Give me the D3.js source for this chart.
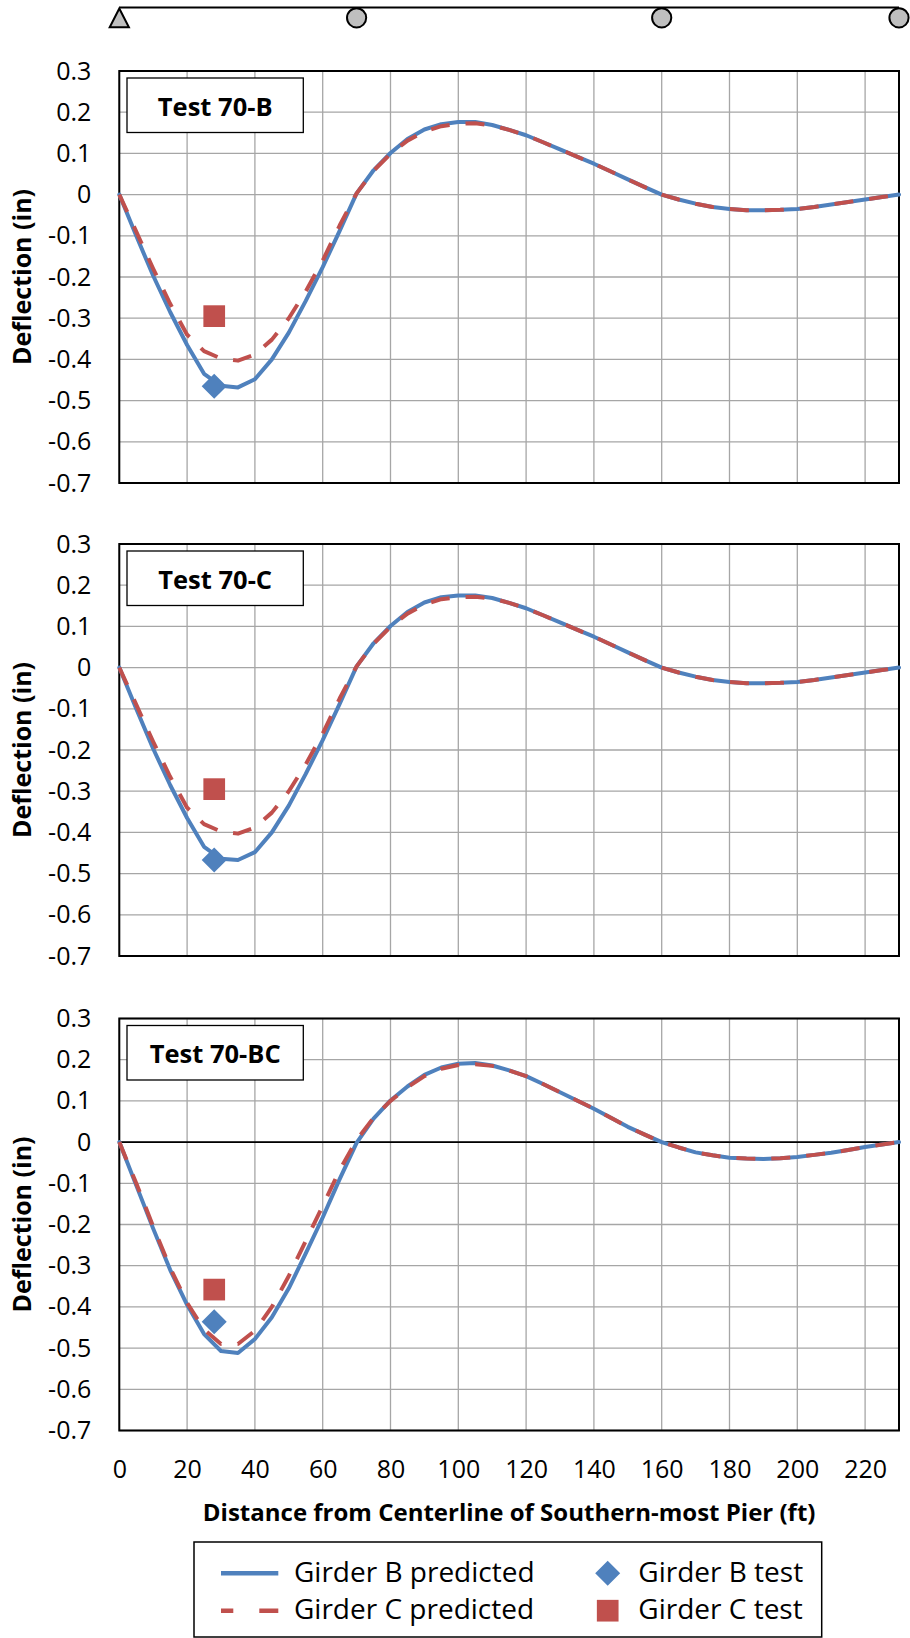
<!DOCTYPE html>
<html>
<head>
<meta charset="utf-8">
<script src="https://cdn.jsdelivr.net/npm/d3@7"></script>
<style>
  body { margin: 0; background: #fff; }
  svg { display: block; font-family: "Open Sans", sans-serif; }
</style>
</head>
<body>
<svg id="chart" width="910" height="1638"></svg>
<script>
// distance along the bridge (ft)
var distFt = [0, 5, 10, 15, 20, 25, 30, 35, 40, 45, 50, 55, 60, 65, 70, 75, 80, 85, 90, 95,
  100, 105, 110, 115, 120, 125, 130, 135, 140, 145, 150, 155, 160, 165, 170, 175, 180, 185, 190, 195,
  200, 205, 210, 215, 220, 225, 230];

// predicted deflections (in), one array per girder per test
var girderB_70B = [0, -0.10, -0.197, -0.285, -0.365, -0.435, -0.464, -0.468, -0.448, -0.40,
  -0.335, -0.258, -0.176, -0.088, 0.003, 0.059, 0.101, 0.135, 0.158, 0.171,
  0.176, 0.176, 0.169, 0.157, 0.144, 0.127, 0.110, 0.092, 0.075, 0.056,
  0.037, 0.018, 0.0, -0.012, -0.022, -0.030, -0.035, -0.038, -0.038, -0.037,
  -0.035, -0.030, -0.024, -0.018, -0.012, -0.006, 0];
var girderC_70B = [0, -0.09, -0.18, -0.265, -0.34, -0.38, -0.398, -0.403, -0.388, -0.352,
  -0.30, -0.235, -0.16, -0.075, 0.003, 0.058, 0.099, 0.131, 0.153, 0.166,
  0.172, 0.173, 0.168, 0.157, 0.144, 0.127, 0.110, 0.092, 0.075, 0.056,
  0.037, 0.018, 0.0, -0.012, -0.022, -0.030, -0.035, -0.038, -0.038, -0.037,
  -0.035, -0.030, -0.024, -0.018, -0.012, -0.006, 0];
var girderB_70C = [0, -0.10, -0.197, -0.285, -0.365, -0.435, -0.464, -0.467, -0.448, -0.40,
  -0.335, -0.258, -0.176, -0.088, 0.003, 0.059, 0.101, 0.135, 0.158, 0.171,
  0.175, 0.175, 0.169, 0.157, 0.144, 0.127, 0.110, 0.092, 0.075, 0.056,
  0.037, 0.018, 0.0, -0.012, -0.022, -0.030, -0.035, -0.038, -0.038, -0.037,
  -0.035, -0.030, -0.024, -0.018, -0.012, -0.006, 0];
var girderC_70C = [0, -0.09, -0.18, -0.265, -0.34, -0.38, -0.398, -0.403, -0.388, -0.352,
  -0.30, -0.235, -0.16, -0.075, 0.003, 0.058, 0.099, 0.131, 0.153, 0.166,
  0.171, 0.172, 0.168, 0.157, 0.144, 0.127, 0.110, 0.092, 0.075, 0.056,
  0.037, 0.018, 0.0, -0.012, -0.022, -0.030, -0.035, -0.038, -0.038, -0.037,
  -0.035, -0.030, -0.024, -0.018, -0.012, -0.006, 0];
var girderB_70BC = [0, -0.105, -0.21, -0.31, -0.395, -0.466, -0.507, -0.512, -0.478, -0.425,
  -0.355, -0.27, -0.183, -0.09, -0.002, 0.057, 0.101, 0.135, 0.163, 0.181,
  0.19, 0.192, 0.186, 0.174, 0.16, 0.141, 0.121, 0.101, 0.081, 0.059,
  0.037, 0.018, 0.0, -0.013, -0.025, -0.032, -0.038, -0.040, -0.041, -0.039,
  -0.036, -0.031, -0.026, -0.019, -0.012, -0.006, 0];
var girderC_70BC = [0, -0.10, -0.205, -0.305, -0.39, -0.455, -0.49, -0.49, -0.458, -0.40,
  -0.325, -0.24, -0.155, -0.068, 0.005, 0.059, 0.10, 0.133, 0.16, 0.178,
  0.187, 0.189, 0.185, 0.174, 0.16, 0.141, 0.121, 0.101, 0.081, 0.059,
  0.037, 0.018, 0.0, -0.013, -0.025, -0.032, -0.038, -0.040, -0.041, -0.039,
  -0.036, -0.031, -0.026, -0.019, -0.012, -0.006, 0];

// measured values (one per test)
var testNames = ["Test 70-B", "Test 70-C", "Test 70-BC"];
var testFt = [28, 28, 28];
var girderBTest = [-0.465, -0.467, -0.436];
var girderCTest = [-0.295, -0.295, -0.358];

var xTicks = [0, 20, 40, 60, 80, 100, 120, 140, 160, 180, 200, 220];
var yTicks = [0.3, 0.2, 0.1, 0, -0.1, -0.2, -0.3, -0.4, -0.5, -0.6, -0.7];

// supports drawn above the plots
var supportFt = [0, 70, 160, 230];
var supportType = ["pin", "roller", "roller", "roller"];

var blue = "#4f81bd", red = "#c0504d", gridColor = "#a6a6a6";

var svg = d3.select("#chart");
var left = 119.3, right = 899, plotH = 412;
var panelTops = [71, 544, 1018.5];

var x = d3.scaleLinear().domain([0, 230]).range([left, right]);

var panels = [
  { b: girderB_70B, c: girderC_70B },
  { b: girderB_70C, c: girderC_70C },
  { b: girderB_70BC, c: girderC_70BC }
];

var squareSym = d3.symbol().type(d3.symbolSquare).size(471);
var diamondSym = d3.symbol().type(d3.symbolSquare).size(313);

// beam + supports
var beamY = 7.5;
svg.append("line")
  .attr("x1", x(0)).attr("x2", x(230))
  .attr("y1", beamY).attr("y2", beamY)
  .attr("stroke", "#000").attr("stroke-width", 2);

supportFt.forEach(function(ft, i) {
  var cx = x(ft);
  if (supportType[i] == "pin") {
    svg.append("path")
      .attr("d", "M" + cx + "," + (beamY + 1) + "L" + (cx - 9.6) + "," + (beamY + 19.8) +
        "L" + (cx + 9.6) + "," + (beamY + 19.8) + "Z")
      .attr("fill", "#bfbfbf").attr("stroke", "#000").attr("stroke-width", 2)
      .attr("stroke-linejoin", "miter");
  } else {
    svg.append("circle")
      .attr("cx", cx).attr("cy", beamY + 10.3).attr("r", 9.6)
      .attr("fill", "#bfbfbf").attr("stroke", "#000").attr("stroke-width", 2);
  }
});

panels.forEach(function(p, i) {
  var top = panelTops[i];
  var y = d3.scaleLinear().domain([-0.7, 0.3]).range([top + plotH, top]);
  var g = svg.append("g");

  // gridlines
  g.append("g").selectAll("line").data(yTicks).enter().append("line")
    .attr("x1", left).attr("x2", right)
    .attr("y1", function(d) { return y(d); }).attr("y2", function(d) { return y(d); })
    .attr("stroke", gridColor).attr("stroke-width", 1.3);
  g.append("g").selectAll("line").data(xTicks).enter().append("line")
    .attr("x1", function(d) { return x(d); }).attr("x2", function(d) { return x(d); })
    .attr("y1", top).attr("y2", top + plotH)
    .attr("stroke", gridColor).attr("stroke-width", 1.3);

  // last panel has the horizontal axis through zero
  if (i == 2) {
    g.append("line")
      .attr("x1", left).attr("x2", right)
      .attr("y1", y(0)).attr("y2", y(0))
      .attr("stroke", "#000").attr("stroke-width", 1.6);
  }

  // frame
  g.append("rect")
    .attr("x", left).attr("y", top)
    .attr("width", right - left).attr("height", plotH)
    .attr("fill", "none").attr("stroke", "#000").attr("stroke-width", 2);

  // y tick labels
  var yAxis = d3.axisLeft(y).tickValues(yTicks).tickSize(0).tickPadding(28)
    .tickFormat(function(d) { return d === 0 ? "0" : d.toFixed(1); });
  var ya = g.append("g").attr("transform", "translate(" + left + ",0)").call(yAxis);
  ya.select(".domain").remove();
  ya.selectAll("text").attr("font-size", 25).attr("font-family", "Open Sans").attr("fill", "#000");

  g.append("text")
    .attr("transform", "translate(30.5," + (top + plotH / 2) + ") rotate(-90)")
    .attr("text-anchor", "middle")
    .attr("font-size", 25).attr("font-weight", "bold")
    .text("Deflection (in)");

  var line = d3.line()
    .x(function(d, k) { return x(distFt[k]); })
    .y(function(d) { return y(d); });

  g.append("path").datum(p.b)
    .attr("d", line).attr("fill", "none")
    .attr("stroke", blue).attr("stroke-width", 4)
    .attr("stroke-linejoin", "round").attr("stroke-linecap", "round");
  g.append("path").datum(p.c)
    .attr("d", line).attr("fill", "none")
    .attr("stroke", red).attr("stroke-width", 4)
    .attr("stroke-dasharray", "19,16")
    .attr("stroke-linejoin", "round");

  // test markers
  g.append("path").attr("d", diamondSym)
    .attr("transform", "translate(" + x(testFt[i]) + "," + y(girderBTest[i]) + ") rotate(45)")
    .attr("fill", blue);
  g.append("path").attr("d", squareSym)
    .attr("transform", "translate(" + x(testFt[i]) + "," + y(girderCTest[i]) + ")")
    .attr("fill", red);

  // test label box
  g.append("rect")
    .attr("x", 127).attr("y", top + 7)
    .attr("width", 176.3).attr("height", 54.5)
    .attr("fill", "#fff").attr("stroke", "#000").attr("stroke-width", 1.3);
  g.append("text")
    .attr("x", 215.2).attr("y", top + 44.5)
    .attr("text-anchor", "middle")
    .attr("font-size", 25.5).attr("font-weight", "bold")
    .text(testNames[i]);

  // x tick labels only on bottom panel
  if (i == 2) {
    var xAxis = d3.axisBottom(x).tickValues(xTicks).tickSize(0).tickPadding(29.8);
    var xa = g.append("g").attr("transform", "translate(0," + (top + plotH) + ")").call(xAxis);
    xa.select(".domain").remove();
    xa.selectAll("text").attr("font-size", 25).attr("font-family", "Open Sans").attr("fill", "#000");
  }
});

svg.append("text")
  .attr("x", (left + right) / 2).attr("y", 1521)
  .attr("text-anchor", "middle")
  .attr("font-size", 24).attr("font-weight", "bold")
  .text("Distance from Centerline of Southern-most Pier (ft)");

// legend
var lg = svg.append("g");
lg.append("rect")
  .attr("x", 194).attr("y", 1542)
  .attr("width", 627.7).attr("height", 95)
  .attr("fill", "#fff").attr("stroke", "#000").attr("stroke-width", 1.5);

var row1 = 1573.3, row2 = 1610.7;
lg.append("line").attr("x1", 221).attr("x2", 278.3).attr("y1", row1).attr("y2", row1)
  .attr("stroke", blue).attr("stroke-width", 4.5);
lg.append("line").attr("x1", 221).attr("x2", 278.3).attr("y1", row2).attr("y2", row2)
  .attr("stroke", red).attr("stroke-width", 4.5).attr("stroke-dasharray", "12.3,26,19");
lg.append("path").attr("d", diamondSym)
  .attr("transform", "translate(607.7," + row1 + ") rotate(45)").attr("fill", blue);
lg.append("path").attr("d", squareSym)
  .attr("transform", "translate(607.7," + row2 + ")").attr("fill", red);

var legendText = [
  ["Girder B predicted", 294, row1], ["Girder C predicted", 294, row2],
  ["Girder B test", 638.3, row1], ["Girder C test", 638.3, row2]
];
legendText.forEach(function(t) {
  lg.append("text").attr("x", t[1]).attr("y", t[2] + 8.5)
    .attr("font-size", 28).text(t[0]);
});
</script>
</body>
</html>
